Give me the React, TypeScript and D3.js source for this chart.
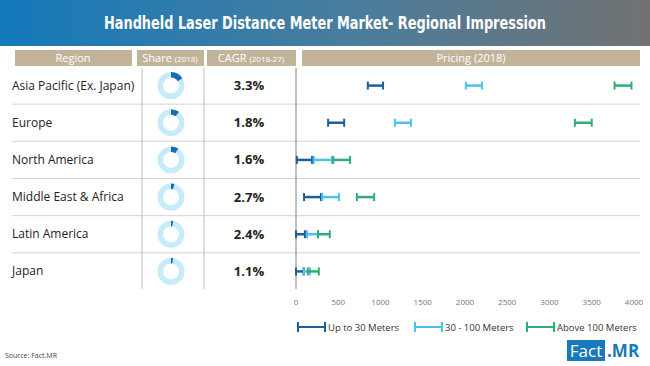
import React from 'react';
import * as d3 from 'd3';

const regions = ['Asia Pacific (Ex. Japan)', 'Europe', 'North America', 'Middle East & Africa', 'Latin America', 'Japan'];
const shares = [0.16, 0.1, 0.09, 0.04, 0.025, 0.025];
const cagr = ['3.3%', '1.8%', '1.6%', '2.7%', '2.4%', '1.1%'];

// price ranges [low, high] per region
const upTo30 = [[850, 1030], [380, 570], [10, 190], [95, 295], [0, 105], [0, 90]];
const mid30to100 = [[2010, 2200], [1170, 1360], [210, 425], [310, 510], [130, 260], [90, 165]];
const above100 = [[3770, 3970], [3300, 3500], [440, 640], [720, 925], [260, 400], [140, 270]];

const seriesNames = ['Up to 30 Meters', '30 - 100 Meters', 'Above 100 Meters'];
const seriesColors = ['#1f5e9a', '#4cc2ea', '#2fae74'];
const priceTicks = [0, 500, 1000, 1500, 2000, 2500, 3000, 3500, 4000];

const W = 650;
const H = 366;
const FONT = '"Open Sans", "Noto Sans", sans-serif';

export default function App() {
  const x = d3.scaleLinear().domain([0, 4000]).range([296, 634]);
  const y = d3.scaleBand<string>().domain(regions).range([67, 290]);
  const arc = d3.arc<any>().innerRadius(8).outerRadius(13.5);
  const allSeries = [upTo30, mid30to100, above100];

  const bar = (lo: number, hi: number, cy: number, color: string, key: string) => (
    <g key={key} stroke={color} strokeWidth={2.5}>
      <line x1={x(lo)} x2={x(hi)} y1={cy} y2={cy} />
      <line x1={x(lo)} x2={x(lo)} y1={cy - 4} y2={cy + 4} strokeWidth={2} />
      <line x1={x(hi)} x2={x(hi)} y1={cy - 4} y2={cy + 4} strokeWidth={2} />
    </g>
  );

  const legendX = [298, 415, 527];

  return (
    <svg width={W} height={H} style={{ position: 'absolute', left: 0, top: 0, background: '#fff' }}
      fontFamily={FONT}>
      <defs>
        <linearGradient id="banner" x1="0%" y1="0%" x2="100%" y2="0%">
          <stop offset="0%" stopColor="#1479bb" />
          <stop offset="55%" stopColor="#4a7d9c" />
          <stop offset="100%" stopColor="#727272" />
        </linearGradient>
      </defs>
      <rect x={0} y={0} width={W} height={46} fill="url(#banner)" />
      <text x={104} y={29} fill="#fff" fontSize={17.5} fontWeight="bold"
        fontFamily='"DejaVu Sans Condensed", sans-serif'
        textLength={442} lengthAdjust="spacingAndGlyphs">
        Handheld Laser Distance Meter Market- Regional Impression
      </text>

      {/* header cells */}
      <g fill="#c2b49b">
        <rect x={15} y={50} width={117} height={16} />
        <rect x={137} y={50} width={67} height={16} />
        <rect x={207} y={50} width={89} height={16} />
        <rect x={302} y={50} width={338} height={16} />
      </g>
      <g fill="#fff" fontSize={11} textAnchor="middle">
        <text x={73} y={62}>Region</text>
        <text x={170} y={62}>Share <tspan fontSize={8}>(2018)</tspan></text>
        <text x={251} y={62}>CAGR <tspan fontSize={8}>(2018-27)</tspan></text>
        <text x={471} y={62}>Pricing (2018)</text>
      </g>

      {/* grid */}
      {regions.slice(1).map(r => (
        <line key={r} x1={12} x2={640} y1={y(r)} y2={y(r)} stroke="#d4d4d4" strokeWidth={1} />
      ))}
      <line x1={142} x2={142} y1={68} y2={289} stroke="#bdbdbd" />
      <line x1={204} x2={204} y1={68} y2={289} stroke="#bdbdbd" />
      <line x1={x(0)} x2={x(0)} y1={68} y2={289} stroke="#a8a8a8" strokeWidth={1.5} />

      {regions.map((r, i) => {
        const cy = (y(r) as number) + y.bandwidth() / 2;
        return (
          <g key={r}>
            <text x={12} y={cy + 4} fontSize={12} fill="#222">{r}</text>
            <g transform={`translate(171,${cy})`}>
              <path d={arc({ startAngle: 0, endAngle: 2 * Math.PI }) as string} fill="#c6ebfa" />
              <path d={arc({ startAngle: 0, endAngle: shares[i] * 2 * Math.PI }) as string} fill="#1b6cae" />
            </g>
            <text x={249} y={cy + 4.5} textAnchor="middle" fontSize={13} fontWeight="bold" fill="#222">{cagr[i]}</text>
            {allSeries.map((s, k) => bar(s[i][0], s[i][1], cy, seriesColors[k], `${r}-${k}`))}
          </g>
        );
      })}

      {/* axis ticks */}
      <g fontSize={8} fill="#777" textAnchor="middle">
        {priceTicks.map(t => (
          <text key={t} x={x(t)} y={305}>{t}</text>
        ))}
      </g>

      {/* legend */}
      {seriesNames.map((n, k) => (
        <g key={n} stroke={seriesColors[k]} strokeWidth={2}>
          <line x1={legendX[k]} x2={legendX[k] + 27} y1={327} y2={327} />
          <line x1={legendX[k]} x2={legendX[k]} y1={322} y2={332} />
          <line x1={legendX[k] + 27} x2={legendX[k] + 27} y1={322} y2={332} />
          <text x={legendX[k] + 30} y={330.5} stroke="none" fill="#333" fontSize={9.5}>{n}</text>
        </g>
      ))}

      {/* logo + source */}
      <rect x={567} y={340} width={38} height={21} fill="#1a78bd" />
      <text x={586} y={357} textAnchor="middle" fontSize={17} fill="#fff">Fact</text>
      <text x={607} y={357} fontSize={17} fontWeight="bold" fill="#1a78bd">.MR</text>
      <text x={5} y={358} fontSize={7} fill="#444">Source: Fact.MR</text>
    </svg>
  );
}
